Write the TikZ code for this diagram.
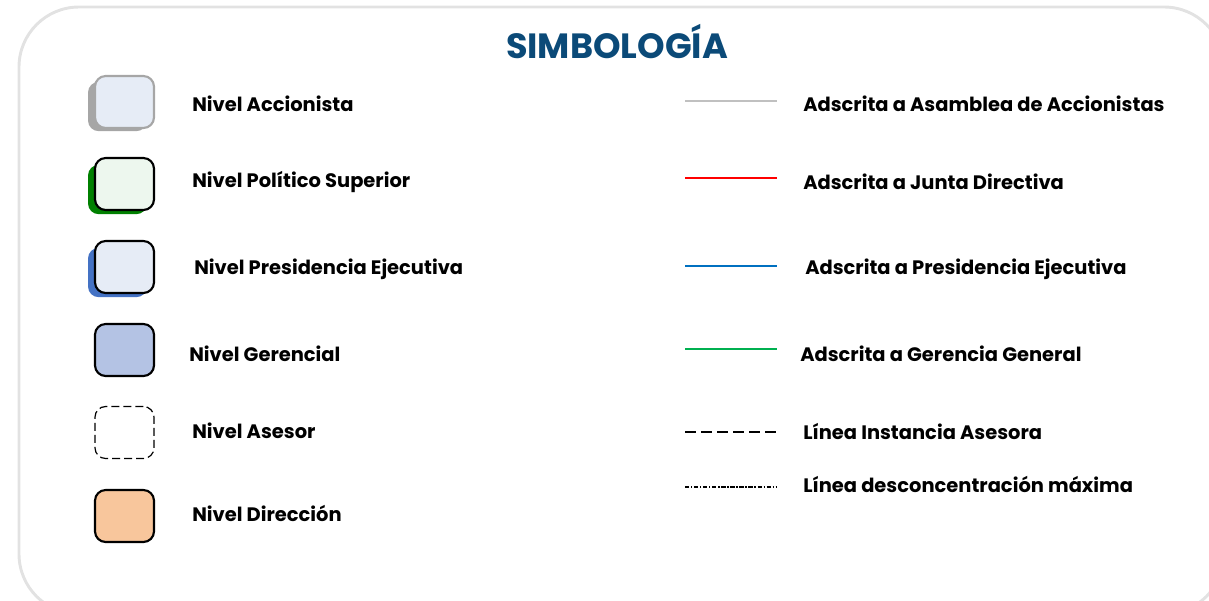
\documentclass[tikz,border=0pt]{standalone}
\usepackage{fontspec}
\setmainfont{Poppins}
\definecolor{frame}{HTML}{E2E2E2}
\definecolor{titleblue}{HTML}{0B4A78}
\definecolor{paleblue}{HTML}{E6ECF6}
\definecolor{palegreen}{HTML}{EDF7EE}
\definecolor{shgray}{HTML}{A6A6A6}
\definecolor{shgreen}{HTML}{008000}
\definecolor{shblue}{HTML}{4472C4}
\definecolor{gerfill}{HTML}{B4C3E4}
\definecolor{dirfill}{HTML}{F8C69C}
\definecolor{lgray}{HTML}{C0C0C0}
\definecolor{lred}{HTML}{FF0000}
\definecolor{lblue}{HTML}{0070C0}
\definecolor{lgreen}{HTML}{00B050}
\tikzset{
  sym/.style={rounded corners=8, line width=1.6pt, minimum width=44.25pt, minimum height=39pt, inner sep=0pt},
  shadowbox/.style={rounded corners=8, inner sep=0pt, minimum width=44.25pt, minimum height=37pt},
  lab/.style={anchor=west, font=\fontsize{14.6pt}{17pt}\selectfont\bfseries, inner sep=0pt},
  leg/.style={line width=1.2pt}
}
\begin{document}
\begin{tikzpicture}[x=0.75pt,y=-0.75pt]
\useasboundingbox (0,0) rectangle (1209,600);
\clip (0,0) rectangle (1209,600);
\draw[frame, line width=2.2pt, rounded corners=45pt] (19,7) rectangle (1224,614);
\node[font=\fontsize{26.3pt}{30pt}\selectfont\bfseries, text=titleblue] (title) at (617,42) {SIMBOLOGÍA};
% boxes
\node[shadowbox, fill=shgray] (s1) at (117.5,106.5) {};
\node[sym, draw=shgray, fill=paleblue] (b1) at (124.5,102) {};
\node[shadowbox, fill=shgreen] (s2) at (117.5,189.5) {};
\node[sym, draw=black, fill=palegreen] (b2) at (124.5,184) {};
\node[shadowbox, fill=shblue] (s3) at (117.5,272.5) {};
\node[sym, draw=black, fill=paleblue] (b3) at (124.5,267) {};
\node[sym, draw=black, fill=gerfill] (b4) at (124.5,350) {};
\node[sym, draw=black, dashed, dash pattern=on 6pt off 3pt, line width=0.9pt] (b5) at (124.5,432.5) {};
\node[sym, draw=black, fill=dirfill] (b6) at (124.5,516) {};
% labels left
\node[lab] (t1) at (192,104) {Nivel Accionista};
\node[lab] (t2) at (192,182) {Nivel Político Superior};
\node[lab] (t3) at (194,269) {Nivel Presidencia Ejecutiva};
\node[lab] (t4) at (189,354) {Nivel Gerencial};
\node[lab] (t5) at (192,431) {Nivel Asesor};
\node[lab] (t6) at (192,513) {Nivel Dirección};
% legend lines
\coordinate (a1) at (685,101); \coordinate (e1) at (777,101);
\coordinate (a2) at (685,178); \coordinate (e2) at (777,178);
\coordinate (a3) at (685,266); \coordinate (e3) at (777,266);
\coordinate (a4) at (685,349); \coordinate (e4) at (777,349);
\coordinate (a5) at (685,432); \coordinate (e5) at (777,432);
\coordinate (a6) at (685,487); \coordinate (e6) at (777,487);
\draw[leg, lgray] (a1) -- (e1);
\draw[leg, lred] (a2) -- (e2);
\draw[leg, lblue] (a3) -- (e3);
\draw[leg, lgreen] (a4) -- (e4);
\draw[line width=1.5pt, dash pattern=on 8.2pt off 3.8pt] (a5) -- (e5);
\draw[line width=0.9pt, dash pattern=on 3.2pt off 1.3pt on 1pt off 1.3pt] (a6) -- (e6);
% labels right
\node[lab] (r1) at (803,104) {Adscrita a Asamblea de Accionistas};
\node[lab] (r2) at (803,182) {Adscrita a Junta Directiva};
\node[lab] (r3) at (805,269) {Adscrita a Presidencia Ejecutiva};
\node[lab] (r4) at (800,354) {Adscrita a Gerencia General};
\node[lab] (r5) at (803,431) {Línea Instancia Asesora};
\node[lab] (r6) at (803,484) {Línea desconcentración máxima};
\end{tikzpicture}
\end{document}
